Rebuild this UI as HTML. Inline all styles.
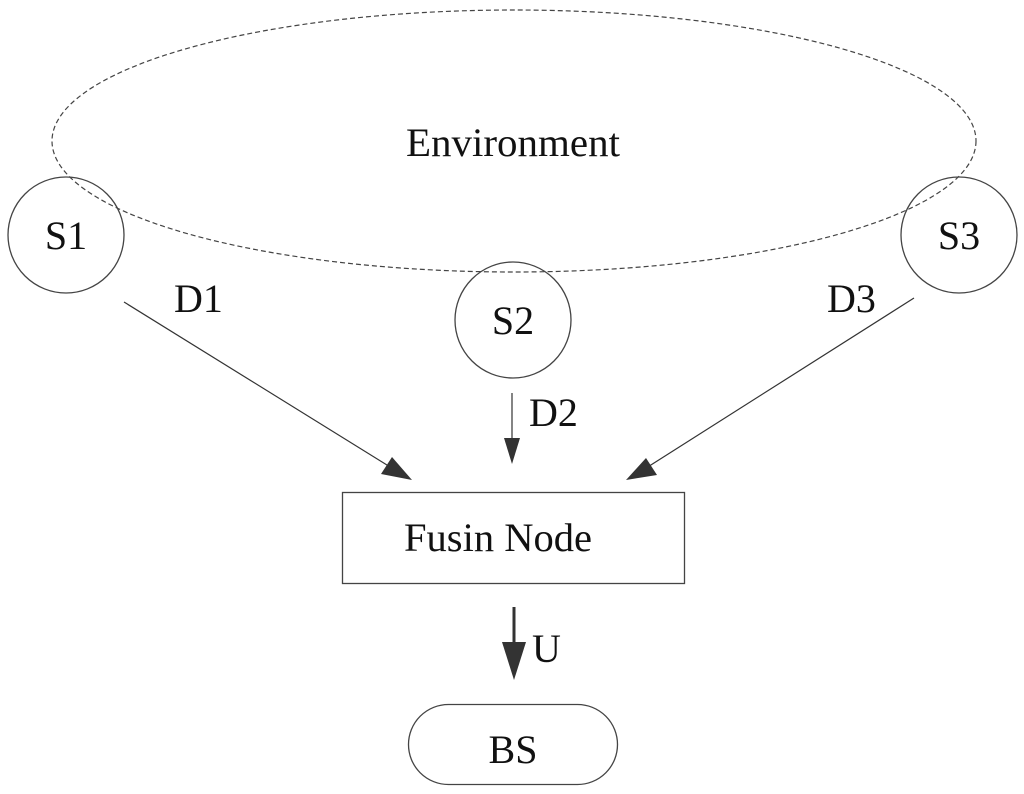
<!DOCTYPE html>
<html><head><meta charset="utf-8"><style>
html,body{margin:0;padding:0;background:#fff;}
svg{display:block;}
text{font-family:"Liberation Serif",serif;fill:#111;}
</style></head><body>
<svg width="1024" height="794" viewBox="0 0 1024 794" xmlns="http://www.w3.org/2000/svg">
<ellipse cx="514" cy="141" rx="462" ry="131" fill="none" stroke="#444" stroke-width="1.2" stroke-dasharray="5,3"/>
<text x="513" y="156" font-size="40" text-anchor="middle" textLength="214" lengthAdjust="spacingAndGlyphs">Environment</text>
<circle cx="66" cy="235" r="58" fill="none" stroke="#444" stroke-width="1.3"/>
<text x="66" y="249" font-size="40" text-anchor="middle">S1</text>
<circle cx="513" cy="320" r="58" fill="none" stroke="#444" stroke-width="1.3"/>
<text x="513" y="334" font-size="40" text-anchor="middle">S2</text>
<circle cx="959" cy="235" r="58" fill="none" stroke="#444" stroke-width="1.3"/>
<text x="959" y="249" font-size="40" text-anchor="middle">S3</text>
<text x="174" y="312" font-size="40">D1</text>
<text x="827" y="312" font-size="40">D3</text>
<text x="529" y="426" font-size="40">D2</text>
<line x1="124" y1="302" x2="395" y2="470" stroke="#333" stroke-width="1.2"/>
<polygon points="412,480 381,474 392,457" fill="#333"/>
<line x1="914" y1="298" x2="643" y2="470" stroke="#333" stroke-width="1.2"/>
<polygon points="626,480 646,458 657,475" fill="#333"/>
<line x1="512" y1="393" x2="512" y2="445" stroke="#333" stroke-width="1.2"/>
<polygon points="512,464 504,438 520,438" fill="#333"/>
<rect x="342.5" y="492.5" width="342" height="91" fill="none" stroke="#444" stroke-width="1.3"/>
<text x="498" y="551" font-size="40" text-anchor="middle" textLength="188" lengthAdjust="spacingAndGlyphs">Fusin Node</text>
<line x1="514" y1="607" x2="514" y2="645" stroke="#333" stroke-width="3"/>
<polygon points="514,680 502,642 526,642" fill="#333"/>
<text x="532" y="662" font-size="40">U</text>
<rect x="408.5" y="704.5" width="209" height="80" rx="40" ry="40" fill="none" stroke="#444" stroke-width="1.3"/>
<text x="513" y="763" font-size="40" text-anchor="middle">BS</text>
</svg>
</body></html>
